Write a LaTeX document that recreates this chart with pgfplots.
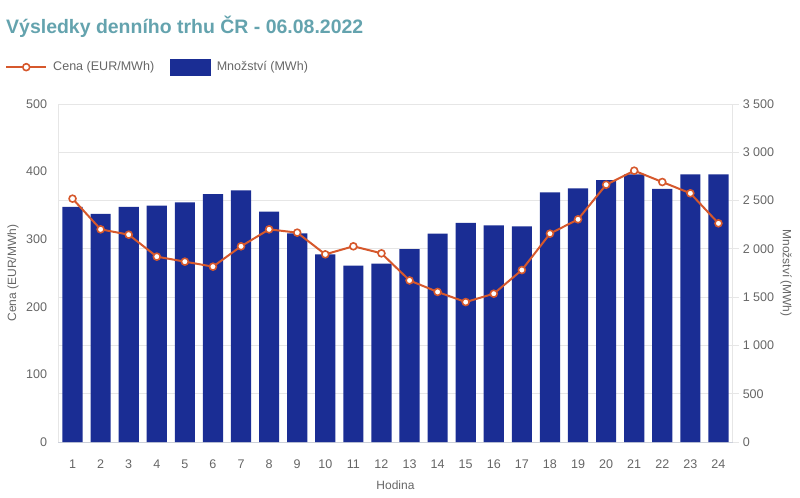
\documentclass[border=0pt]{standalone}
\usepackage{pgfplots}
\pgfplotsset{compat=1.18}
\usepackage{fontspec}
\setmainfont{Liberation Sans}
\definecolor{barblue}{RGB}{26,45,148}
\definecolor{lineor}{RGB}{214,88,44}
\definecolor{titleteal}{RGB}{100,163,174}
\definecolor{tickgray}{RGB}{102,102,102}
\definecolor{gridgray}{RGB}{230,230,230}
\definecolor{axgray}{RGB}{204,208,218}
\begin{document}
\begin{tikzpicture}
\useasboundingbox (-43.875pt,-41.25pt) rectangle (556.125pt,331.5pt);
% bars: quantity, right axis
\begin{axis}[
  at={(0pt,0pt)}, anchor=south west,
  scale only axis, width=505.5pt, height=253.5pt,
  xmin=0.5, xmax=24.5, ymin=0, ymax=3500,
  /pgf/number format/assume math mode=true,
  axis y line*=right, axis x line*=bottom,
  axis line style={draw=axgray, line width=0.6pt},
  x axis line style={-}, y axis line style={-, draw=gridgray},
  xtick={1,...,24}, ytick={0,500,...,3500},
  yticklabels={0,500,1 000,1 500,2 000,2 500,3 000,3 500},
  ymajorgrids, grid style={draw=gridgray, line width=0.6pt},
  tick align=outside, major tick length=5pt,
  xtick style={draw=none},
  ytick style={draw=gridgray, line width=0.6pt},
  ticklabel style={font=\fontsize{9.4pt}{11pt}\selectfont, text=tickgray, inner sep=0pt},
  yticklabel style={anchor=west, xshift=2.5pt},
  xticklabel style={anchor=north, yshift=-8pt},
  xlabel={Hodina},
  xlabel style={at={(axis description cs:0.5,-0.127)}, anchor=center, font=\fontsize{9pt}{11pt}\selectfont, text=tickgray},
  ylabel={Množství (MWh)},
  ylabel style={at={(axis description cs:1.0794,0.5)}, anchor=center, rotate=180, font=\fontsize{9pt}{11pt}\selectfont, text=tickgray},
]
\addplot[ybar, bar width=0.72, fill=barblue, draw=none] coordinates {
(1,2436) (2,2361) (3,2436) (4,2447) (5,2482) (6,2568) (7,2606) (8,2385)
(9,2161) (10,1944) (11,1826) (12,1847) (13,1998) (14,2157) (15,2268) (16,2244)
(17,2234) (18,2585) (19,2627) (20,2713) (21,2772) (22,2620) (23,2772) (24,2772)};
\end{axis}
% line: price, left axis
\begin{axis}[
  at={(0pt,0pt)}, anchor=south west,
  scale only axis, width=505.5pt, height=253.5pt,
  xmin=0.5, xmax=24.5, ymin=0, ymax=500,
  /pgf/number format/assume math mode=true,
  axis y line*=left, axis x line=none,
  y axis line style={-, draw=gridgray, line width=0.6pt},
  ytick={0,100,...,500},
  major tick length=0pt,
  ytick style={draw=none},
  yticklabel style={font=\fontsize{9.4pt}{11pt}\selectfont, text=tickgray, inner sep=0pt, anchor=east, xshift=-8.4pt},
  ylabel={Cena (EUR/MWh)},
  ylabel style={at={(axis description cs:-0.0675,0.5)}, anchor=center, font=\fontsize{9pt}{11pt}\selectfont, text=tickgray},
  legend columns=2,
  legend style={at={(axis description cs:-0.0794,1.109)}, anchor=west, draw=none, fill=none, inner sep=0pt,
    font=\fontsize{9.4pt}{11pt}\selectfont, text=tickgray,
    /tikz/every odd column/.append style={column sep=4.5pt},
    /tikz/every even column/.append style={column sep=12pt},
    nodes={inner sep=0pt}},
  legend cell align=left,
  legend image code/.code={
    \draw[#1, mark repeat=2, mark phase=2] plot coordinates {(0pt,0pt) (15pt,0pt) (30pt,0pt)};
  },
]
\addplot[color=lineor, line width=1.5pt, mark=*, mark size=2.6pt,
  mark options={fill=white, draw=lineor, line width=1.2pt}] coordinates {
(1,360) (2,314.6) (3,306.7) (4,274.2) (5,266.8) (6,259.4) (7,289.5) (8,314.6)
(9,309.7) (10,277.6) (11,289.5) (12,279.1) (13,239) (14,222) (15,207) (16,219.4)
(17,254.4) (18,308.2) (19,329.4) (20,380.6) (21,401.4) (22,384.6) (23,367.9) (24,323.5)};
\addlegendentry{Cena (EUR/MWh)}
\addlegendimage{legend image code/.code={\fill[barblue] (0pt,-6pt) rectangle (30pt,6pt);}}
\addlegendentry{Množství (MWh)}
\end{axis}
\node[anchor=base west, inner sep=0pt, text=titleteal, font=\bfseries\fontsize{14.6pt}{18pt}\selectfont] at (-39.4pt,306pt) {Výsledky denního trhu ČR - 06.08.2022};
\end{tikzpicture}
\end{document}
